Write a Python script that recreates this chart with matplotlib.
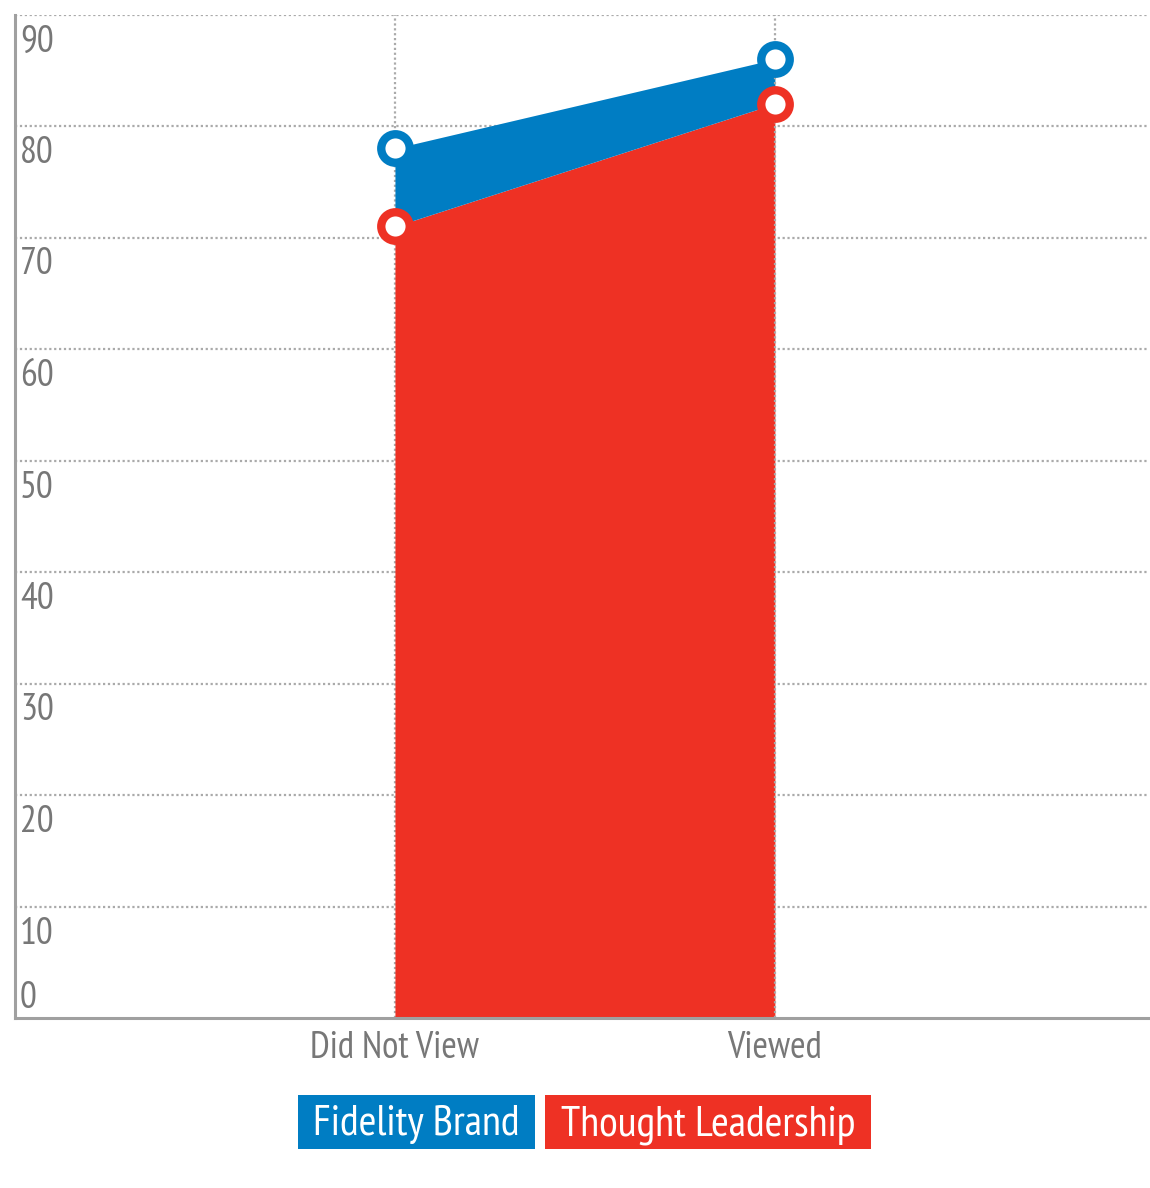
import matplotlib
matplotlib.use("Agg")
import matplotlib.pyplot as plt
from matplotlib import font_manager, transforms
from matplotlib.patches import Rectangle


def pick_font(cands):
    for c in cands:
        try:
            font_manager.findfont(c, fallback_to_default=False)
            return c
        except Exception:
            continue
    return "DejaVu Sans"


AXIS_FONT = pick_font(["PT Sans Narrow", "Roboto Condensed", "Liberation Sans Narrow"])
LEG_FONT = pick_font(["Open Sans Condensed Light", "PT Sans Narrow", "Roboto Condensed"])
matplotlib.rcParams["font.family"] = [AXIS_FONT, "DejaVu Sans"]

categories = ["Did Not View", "Viewed"]
fidelity_brand = [78, 86]
thought_leadership = [71, 82]
series_names = ["Fidelity Brand", "Thought Leadership"]
y_ticks = [0, 10, 20, 30, 40, 50, 60, 70, 80, 90]

BLUE = "#007DC3"
RED = "#EE3124"
GRAY_TXT = "#777777"
GRID = "#AAAAAA"

W, H = 1150, 1188
fig = plt.figure(figsize=(W / 100, H / 100), dpi=100)
ax = fig.add_axes([15 / W, (H - 1018) / H, (1148 - 15) / W, (1018 - 14.5) / H])

x = list(range(len(categories)))
ax.fill_between(x, 0, thought_leadership, color=RED, lw=0, zorder=3)
ax.fill_between(x, thought_leadership, fidelity_brand, color=BLUE, lw=0, zorder=3)
for vals, c in [(fidelity_brand, BLUE), (thought_leadership, RED)]:
    ax.plot(x, vals, ls="none", marker="o", ms=20.5, mew=6,
            mfc="white", mec=c, zorder=5, clip_on=False)

ax.set_xlim(-1, 1.982)
ax.set_ylim(0, 90)

# dotted grid
for v in y_ticks[1:]:
    ax.axhline(v, color=GRID, lw=1.6, ls=(0, (1, 1.2)), zorder=1)
for xi in x:
    ax.axvline(xi, color=GRID, lw=1.6, ls=(0, (1, 1.2)), zorder=4 if xi == 1 else 1)

for s in ["top", "right"]:
    ax.spines[s].set_visible(False)
for s in ["left", "bottom"]:
    ax.spines[s].set_color("#A0A0A0")
    ax.spines[s].set_linewidth(2.2)
    ax.spines[s].set_zorder(6)

ax.set_yticks([])
ax.set_xticks(x)
ax.set_xticklabels(categories, fontsize=27, color=GRAY_TXT)
ax.tick_params(axis="x", length=0, pad=9)

# y labels sit inside the plot, just below each gridline
blend = transforms.blended_transform_factory(ax.transAxes, ax.transData)
for v in y_ticks:
    if v == 0:
        tr = transforms.offset_copy(blend, fig=fig, x=5, y=2, units="dots")
        ax.text(0, v, str(v), transform=tr, fontsize=27, color=GRAY_TXT,
                ha="left", va="bottom")
    else:
        tr = transforms.offset_copy(blend, fig=fig, x=5, y=-10, units="dots")
        ax.text(0, v, str(v), transform=tr, fontsize=27, color=GRAY_TXT,
                ha="left", va="top")

# legend boxes
boxes = [(298, 535, BLUE), (545, 871, RED)]
for name, (x0, x1, c) in zip(series_names, boxes):
    fig.patches.append(Rectangle((x0 / W, (H - 1149) / H), (x1 - x0) / W, 54 / H,
                                 transform=fig.transFigure, color=c, lw=0))
    fig.text((x0 + x1) / 2 / W, (H - 1125) / H, name, color="white",
             fontsize=31, ha="center", va="center",
             family=[LEG_FONT, "DejaVu Sans"])

fig.savefig("out.png", dpi=100)
